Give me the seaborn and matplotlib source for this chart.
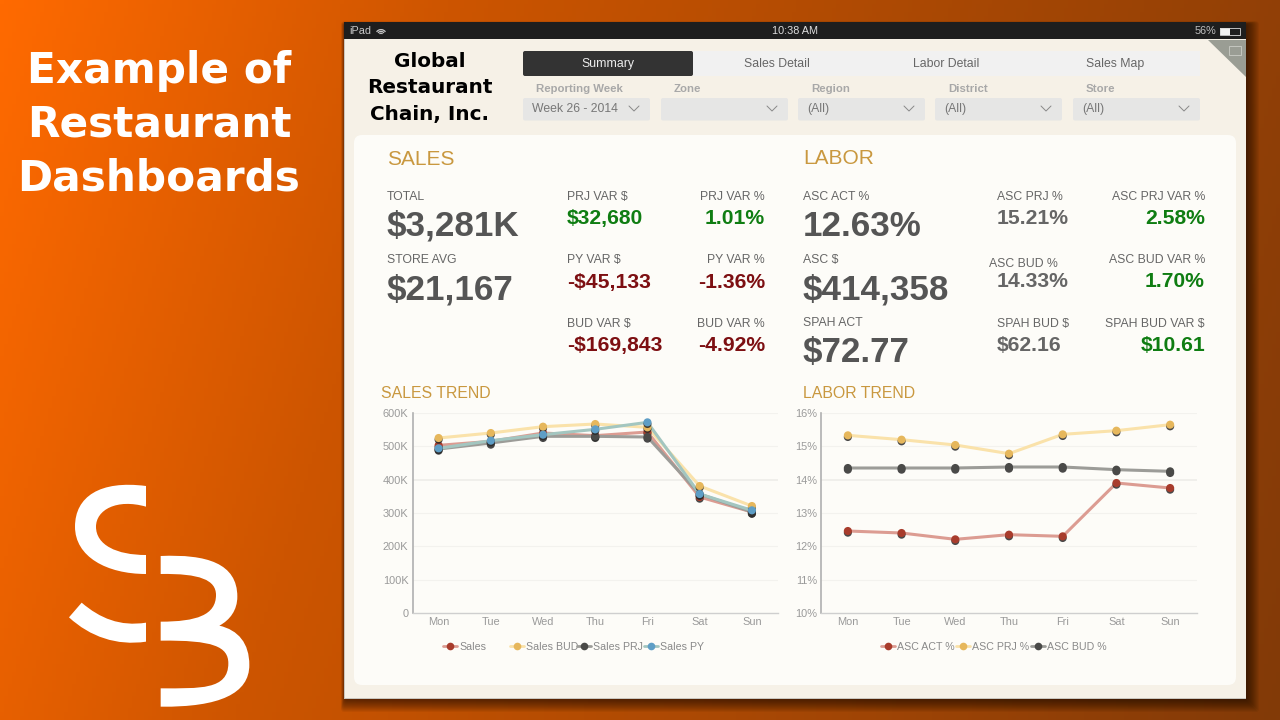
import matplotlib
matplotlib.use("Agg")
import matplotlib.patheffects as pe
import matplotlib.pyplot as plt
import numpy as np
import pandas as pd
import seaborn as sns
from matplotlib.lines import Line2D
from matplotlib.patches import Arc, FancyBboxPatch, PathPatch, Polygon, Rectangle
from matplotlib.path import Path

DAYS = ["Mon", "Tue", "Wed", "Thu", "Fri", "Sat", "Sun"]

SALES = [503, 515, 540, 532, 543, 348, 303]
SALES_BUD = [525, 540, 559, 567, 557, 381, 321]
SALES_PRJ = [492, 510, 530, 530, 528, 357, 303]
SALES_PY = [494, 517, 535, 551, 572, 357, 308]
SALES_TICKS = ["0", "100K", "200K", "300K", "400K", "500K", "600K"]

ASC_ACT = [12.46, 12.40, 12.21, 12.35, 12.30, 13.90, 13.75]
ASC_PRJ = [15.33, 15.20, 15.04, 14.78, 15.36, 15.47, 15.65]
ASC_BUD = [14.35, 14.35, 14.35, 14.38, 14.38, 14.30, 14.25]
LABOR_TICKS = ["10%", "11%", "12%", "13%", "14%", "15%", "16%"]

TABS = ["Summary", "Sales Detail", "Labor Detail", "Sales Map"]
FILTERS = ["Reporting Week", "Zone", "Region", "District", "Store"]
FILTER_VALUES = ["Week 26 - 2014", ".", "(All)", "(All)", "(All)"]

RED, RED_DOT = "#dc9c92", "#a83c2c"
YELLOW, YELLOW_DOT = "#fae2aa", "#e6b75c"
GREY, GREY_DOT = "#9c9c98", "#4a4a48"
TEAL, TEAL_DOT = "#a3c6c0", "#5e9ec6"

GOLD = "#c9983f"
TEXT = "#555555"
LABEL = "#666666"
GREEN = "#0f7d12"
MAROON = "#7d0f12"

sns.set_style("white")
plt.rcParams["font.family"] = ["Liberation Sans", "DejaVu Sans"]

fig = plt.figure(figsize=(12.8, 7.2), dpi=100)
bg = fig.add_axes([0, 0, 1, 1])
bg.set_axis_off()

# diagonal orange backdrop
xx, yy = np.meshgrid(np.linspace(0, 1280, 320), np.linspace(0, 720, 180))
t = (xx + 0.3 * yy) / 1496
stops = [0, 0.3, 1]
rgb = np.dstack([
    np.interp(t, stops, [255, 205, 130]),
    np.interp(t, stops, [106, 85, 58]),
    np.interp(t, stops, [0, 0, 8]),
]) / 255
bg.imshow(rgb, extent=(0, 1280, 720, 0), aspect="auto", zorder=0)
bg.set_xlim(0, 1280)
bg.set_ylim(720, 0)


def box(x0, y0, x1, y1, color, radius=0, zorder=2, **kw):
    style = f"round,pad=0,rounding_size={radius}" if radius else "square,pad=0"
    p = FancyBboxPatch((x0, y0), x1 - x0, y1 - y0, boxstyle=style, fc=color, ec="none", zorder=zorder, **kw)
    bg.add_patch(p)
    return p


def label(x, y, s, size=8.8, color=LABEL, ha="left", weight="normal", **kw):
    bg.text(x, y + 1.8, s, fontsize=size, color=color, ha=ha, va="center", fontweight=weight, zorder=5, **kw)


# left side title
for y, s in zip([69, 123, 177], ["Example of", "Restaurant", "Dashboards"]):
    label(159, y, s, size=30.4, color="white", ha="center", weight="bold", family="DejaVu Sans")


# logo, traced in a 3x crop
def logo_path(points, codes):
    return Path([(x / 3, 460 + y / 3) for x, y in points], codes)


C, L, M, Z = Path.CURVE4, Path.LINETO, Path.MOVETO, Path.CLOSEPOLY
logo_shapes = [
    ([(438, 78), (300, 60), (225, 110), (225, 200), (225, 290), (320, 342), (438, 342), (438, 285),
      (350, 285), (288, 255), (288, 200), (288, 150), (350, 115), (438, 140), (438, 78)],
     [M, C, C, C, C, C, C, L, C, C, C, C, C, C, Z]),
    ([(245, 428), (300, 475), (360, 500), (438, 488), (438, 545), (350, 558), (270, 530), (207, 472), (245, 428)],
     [M, C, C, C, L, C, C, C, Z]),
    ([(482, 288), (620, 282), (712, 310), (712, 410), (712, 450), (690, 480), (658, 497), (715, 510), (748, 550),
      (748, 615), (748, 700), (660, 742), (482, 740), (482, 685), (600, 685), (685, 690), (685, 610), (685, 560),
      (640, 540), (482, 542), (482, 485), (590, 485), (648, 465), (648, 405), (648, 360), (600, 340), (482, 342),
      (482, 288)],
     [M, C, C, C, C, C, C, C, C, C, C, C, C, L, C, C, C, C, C, C, L, C, C, C, C, C, C, Z]),
]
for pts, codes in logo_shapes:
    bg.add_patch(PathPatch(logo_path(pts, codes), fc="white", ec="none", zorder=3))

# tablet shadow, heavier towards the lower right
for i in range(14):
    box(345 - i * 0.3, 24 - i * 0.2, 1246 + i, 699 + i, "black", radius=3, zorder=1, alpha=0.05)

# tablet frame
box(344, 22, 1246, 699, "#c9c6bf")
box(345, 22, 1246, 698, "#f6f1e7")
box(344, 22, 1246, 39, "#1e1e1e", zorder=3)
label(349, 29, "iPad", size=7.8, color="#c8c8c8")
for r in [3, 6, 9]:
    bg.add_patch(Arc((381, 35), r * 1.2, r * 1.2, theta1=215, theta2=325, color="#c8c8c8", lw=0.9, zorder=5))
label(795, 29, "10:38 AM", size=7.8, color="#dddddd", ha="center")
label(1216, 29, "56%", size=7.8, color="#c0c0c0", ha="right")
box(1220, 28, 1230, 35, "#f2f2f2", zorder=4)
bg.add_patch(Rectangle((1220, 28), 20, 7, fc="none", ec="#d8d8d8", lw=0.6, zorder=4))
bg.add_patch(Polygon([(1208, 40), (1246, 40), (1246, 77)], fc="#9a9d94", ec="none", zorder=3))
bg.add_patch(Rectangle((1229, 46), 12, 9, fc="none", ec="#c5c7c0", lw=0.7, zorder=4))

for y, s in zip([60, 86, 113], ["Global", "Restaurant", "Chain, Inc."]):
    label(430, y, s, size=14.4, color="black", ha="center", weight="bold", family="DejaVu Sans")

# tabs
box(693, 51, 1200, 76, "#f1f1f1")
box(523, 51, 693, 76, "#333333", radius=2, zorder=3)
for x, s, c in zip([608, 777, 946, 1115], TABS, ["#eeeeee", LABEL, LABEL, LABEL]):
    label(x, 62.5, s, size=8.8, color=c, ha="center")

# filters
filter_left = [523, 661, 798, 935, 1073]
for x0, name, value in zip(filter_left, FILTERS, FILTER_VALUES):
    x1 = x0 + 127 if x0 != 1073 else 1200
    box(x0, 98, x1, 120.5, "#e6e6e5", radius=2)
    label(x0 + 13, 87.5, name, size=8.2, color="#a8a8a8", weight="bold")
    if value != ".":
        label(x0 + 9, 107.5, value, size=8.8, color="#777777")
    cx = x1 - 16
    bg.plot([cx - 5, cx, cx + 5], [106, 111, 106], color="#888888", lw=0.7, zorder=5)

# main panel
box(354, 135, 1236, 685, "#fdfcf8", radius=8, zorder=2)

label(387, 158, "SALES", size=15, color=GOLD)
label(803, 157, "LABOR", size=15, color=GOLD)
label(381, 391.5, "SALES TREND", size=11.4, color=GOLD)
label(803, 391.5, "LABOR TREND", size=11.4, color=GOLD)

# big numbers
BIG_LABELS = ["TOTAL", "STORE AVG", "ASC ACT %", "ASC $", "SPAH ACT"]
BIG_VALUES = ["$3,281K", "$21,167", "12.63%", "$414,358", "$72.77"]
big_x = [387, 387, 803, 803, 803]
big_label_y = [195, 258, 195, 258, 321]
big_value_y = [224, 288, 225, 288, 351]
for x, ly, vy, a, b in zip(big_x, big_label_y, big_value_y, BIG_LABELS, BIG_VALUES):
    label(x, ly, a)
    label(x, vy, b, size=25.2, color=TEXT, weight="bold")

# variances, sales side
VAR_LABELS = ["PRJ VAR $", "PRJ VAR %", "PY VAR $", "PY VAR %", "BUD VAR $", "BUD VAR %"]
VAR_VALUES = ["$32,680", "1.01%", "-$45,133", "-1.36%", "-$169,843", "-4.92%"]
VAR_COLORS = [GREEN, GREEN, MAROON, MAROON, MAROON, MAROON]
var_label_y = [195, 195, 258, 258, 322, 322]
var_value_y = [217, 217, 281, 281, 344, 344]
for i, (a, b, c) in enumerate(zip(VAR_LABELS, VAR_VALUES, VAR_COLORS)):
    ha, x = ("right", 765) if i % 2 else ("left", 567)
    label(x, var_label_y[i], a, ha=ha)
    label(x, var_value_y[i], b, size=15.2, color=c, ha=ha, weight="bold")

# labor side
ASC_LABELS = ["ASC PRJ %", "ASC BUD %", "SPAH BUD $"]
ASC_VALUES = ["15.21%", "14.33%", "$62.16"]
ASC_VAR_LABELS = ["ASC PRJ VAR %", "ASC BUD VAR %", "SPAH BUD VAR $"]
ASC_VAR_VALUES = ["2.58%", "1.70%", "$10.61"]
asc_label_x = [997, 989, 997]
asc_label_y = [195, 262, 322]
asc_var_y = [195, 258, 322]
asc_value_y = [217, 280, 344]
for i, (a, b, c, d) in enumerate(zip(ASC_LABELS, ASC_VALUES, ASC_VAR_LABELS, ASC_VAR_VALUES)):
    label(asc_label_x[i], asc_label_y[i], a)
    label(997, asc_value_y[i], b, size=15.2, color="#666666", weight="bold")
    label(1205, asc_var_y[i], c, ha="right")
    label(1205, asc_value_y[i], d, size=15.2, color=GREEN, ha="right", weight="bold")


def trend(left, right, names, series, colors, dots, ymin, ymax, tick_labels, legend_x):
    ax = fig.add_axes([left / 1280, 1 - 613 / 720, (right - left) / 1280, 200 / 720])
    ax.patch.set_alpha(0)
    ax.set_zorder(3)
    df = pd.DataFrame(dict(zip(names, series)), index=DAYS).rename_axis("day").reset_index()
    df = df.melt(id_vars="day", var_name="series", value_name="value")
    ticks = np.linspace(ymin, ymax, len(tick_labels))
    ax.set_yticks(ticks, tick_labels)
    for tick in ticks[1:]:
        strong = tick == ticks[4]
        ax.axhline(tick, color="#f0efeb" if strong else "#f3f2ee", lw=1.4 if strong else 0.8, zorder=1)
    for name, col, dot in zip(names, colors, dots):
        part = df[df["series"] == name]
        sns.lineplot(data=part, x="day", y="value", color=col, lw=2.2, sort=False, ax=ax, legend=False, zorder=3)
        pts = sns.scatterplot(data=part, x="day", y="value", color=dot, s=34, linewidth=0, ax=ax,
                              legend=False, zorder=4)
        pts.collections[-1].set_path_effects([
            pe.SimplePatchShadow(offset=(0, -1.2), shadow_rgbFace="#2a2a2a", alpha=0.85), pe.Normal()])
    ax.set_xlim(-0.5, 6.5)
    ax.set_ylim(ymin, ymax)
    ax.set_xlabel("")
    ax.set_ylabel("")
    ax.tick_params(length=0, labelsize=7.9, labelcolor="#9a9a9a", pad=3)
    sns.despine(ax=ax, top=True, right=True)
    ax.spines["left"].set_color("#b0b0b0")
    ax.spines["left"].set_linewidth(1.2)
    ax.spines["bottom"].set_color("#cfcfcf")
    ax.spines["bottom"].set_linewidth(1.0)
    for x, name, col, dot in zip(legend_x, names, colors, dots):
        handle = Line2D([], [], color=col, lw=2, marker="o", ms=5.5, mfc=dot, mec="none")
        leg = ax.legend([handle], [name], loc="center left", bbox_to_anchor=(x, 646.5), bbox_transform=bg.transData,
                        frameon=False, fontsize=7.7, labelcolor="#8a8a8a", handlelength=1.3, handletextpad=0.2,
                        borderpad=0, borderaxespad=0)
        ax.add_artist(leg)
        ax.legend_ = None


trend(412.5, 778, ["Sales", "Sales BUD", "Sales PRJ", "Sales PY"], [SALES, SALES_BUD, SALES_PRJ, SALES_PY],
      [RED, YELLOW, GREY, TEAL], [RED_DOT, YELLOW_DOT, GREY_DOT, TEAL_DOT], 0, 600, SALES_TICKS, [443, 510, 577, 644])
trend(821, 1197, ["ASC ACT %", "ASC PRJ %", "ASC BUD %"], [ASC_ACT, ASC_PRJ, ASC_BUD],
      [RED, YELLOW, GREY], [RED_DOT, YELLOW_DOT, GREY_DOT], 10, 16, LABOR_TICKS, [881, 956, 1031])

fig.savefig("out.png", dpi=100)
